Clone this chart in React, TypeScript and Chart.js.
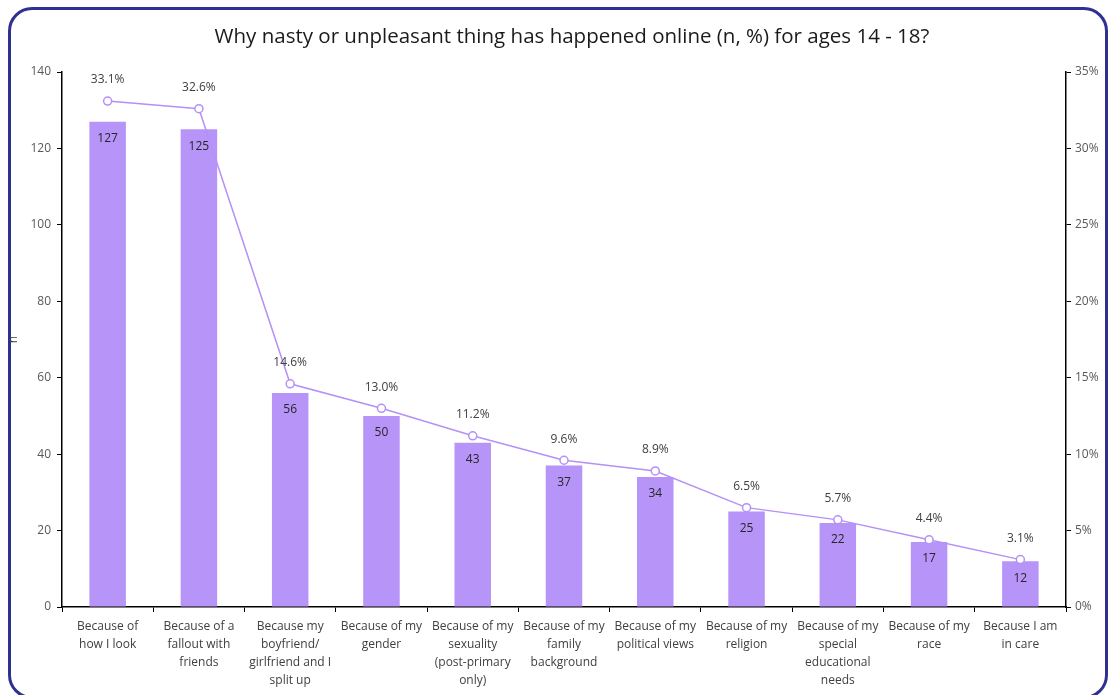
import React, { useEffect, useRef } from "react";
import { Chart, registerables } from "chart.js";

Chart.register(...registerables);

const TITLE = "Why nasty or unpleasant thing has happened online (n, %) for ages 14 - 18?";

const categories: string[][] = [
  ["Because of", "how I look"],
  ["Because of a", "fallout with", "friends"],
  ["Because my", "boyfriend/", "girlfriend and I", "split up"],
  ["Because of my", "gender"],
  ["Because of my", "sexuality", "(post-primary", "only)"],
  ["Because of my", "family", "background"],
  ["Because of my", "political views"],
  ["Because of my", "religion"],
  ["Because of my", "special", "educational", "needs"],
  ["Because of my", "race"],
  ["Because I am", "in care"],
];

const counts: number[] = [127, 125, 56, 50, 43, 37, 34, 25, 22, 17, 12];
const percents: number[] = [33.1, 32.6, 14.6, 13.0, 11.2, 9.6, 8.9, 6.5, 5.7, 4.4, 3.1];

const FONT = "'Open Sans', Lato, sans-serif";
const BAR_COLOR = "#b794f8";
const LINE_COLOR = "#b590f7";

const labelPlugin = {
  id: "customLabels",
  afterDatasetsDraw(chart: any) {
    const ctx = chart.ctx;
    ctx.save();
    ctx.textAlign = "center";
    ctx.textBaseline = "middle";
    const barMeta = chart.getDatasetMeta(1);
    ctx.font = `12px ${FONT}`;
    ctx.fillStyle = "#262626";
    barMeta.data.forEach((el: any, i: number) => {
      ctx.fillText(String(counts[i]), el.x, el.y + 17);
    });
    const lineMeta = chart.getDatasetMeta(0);
    ctx.fillStyle = "#404040";
    lineMeta.data.forEach((el: any, i: number) => {
      ctx.fillText(percents[i].toFixed(1) + "%", el.x, el.y - 21);
    });
    // title
    ctx.font = `20.5px ${FONT}`;
    ctx.fillStyle = "#1a1a1a";
    ctx.fillText(TITLE, 572, 37);
    ctx.restore();
  },
};

export default function App() {
  const ref = useRef<HTMLCanvasElement | null>(null);

  useEffect(() => {
    if (!ref.current) return;
    const chart = new Chart(ref.current, {
      type: "bar",
      data: {
        labels: categories,
        datasets: [
          {
            type: "line",
            label: "%",
            data: percents,
            yAxisID: "y1",
            borderColor: LINE_COLOR,
            borderWidth: 1.5,
            pointRadius: 4,
            pointBackgroundColor: "#ffffff",
            pointBorderColor: LINE_COLOR,
            pointBorderWidth: 1.5,
            tension: 0,
            order: 0,
          } as any,
          {
            type: "bar",
            label: "n",
            data: counts,
            yAxisID: "y",
            backgroundColor: BAR_COLOR,
            barPercentage: 0.8,
            categoryPercentage: 0.5,
            order: 1,
          },
        ],
      },
      options: {
        animation: false,
        responsive: false,
        maintainAspectRatio: false,
        layout: { padding: { top: 72, left: 0, right: 0, bottom: 0 } },
        plugins: {
          legend: { display: false },
          tooltip: { enabled: false },
          title: { display: false },
        },
        scales: {
          x: {
            grid: {
              drawOnChartArea: false,
              drawTicks: true,
              tickLength: 5,
              color: "#000",
              offset: true,
            },
            border: { display: true, color: "#000", width: 1.5 },
            ticks: {
              maxRotation: 0,
              autoSkip: false,
              padding: 6,
              color: "#404040",
              font: { family: FONT, size: 12, lineHeight: 1.5 },
            },
            afterFit: (scale: any) => {
              scale.height = 88;
            },
          },
          y: {
            position: "left",
            min: 0,
            max: 140,
            ticks: {
              stepSize: 20,
              color: "#595959",
              padding: 6,
              font: { family: FONT, size: 12 },
            },
            grid: {
              drawOnChartArea: false,
              drawTicks: true,
              tickLength: 5,
              color: "#000",
            },
            border: { display: true, color: "#000", width: 1.5 },
            title: {
              display: true,
              text: "n",
              color: "#404040",
              font: { family: FONT, size: 12 },
              padding: { top: 6, bottom: 0 },
            },
            afterFit: (scale: any) => {
              scale.width = 62;
            },
          },
          y1: {
            position: "right",
            min: 0,
            max: 35,
            ticks: {
              stepSize: 5,
              color: "#595959",
              padding: 4,
              font: { family: FONT, size: 12 },
              callback: (v: any) => `${v}%`,
            },
            grid: {
              drawOnChartArea: false,
              drawTicks: true,
              tickLength: 5,
              color: "#000",
            },
            border: { display: true, color: "#000", width: 1.5 },
            afterFit: (scale: any) => {
              scale.width = 43;
            },
          },
        },
      },
      plugins: [labelPlugin],
    });
    return () => chart.destroy();
  }, []);

  return (
    <div style={{ position: "absolute", left: 0, top: 0, width: 1109, height: 695, overflow: "hidden", background: "#fff" }}>
      <div
        style={{
          position: "absolute",
          left: 8,
          top: 7,
          width: 1100,
          height: 692,
          border: "3px solid #2e3192",
          borderRadius: 24,
          boxSizing: "border-box",
        }}
      />
      <canvas ref={ref} width={1109} height={695} style={{ position: "absolute", left: 0, top: 0 }} />
    </div>
  );
}
